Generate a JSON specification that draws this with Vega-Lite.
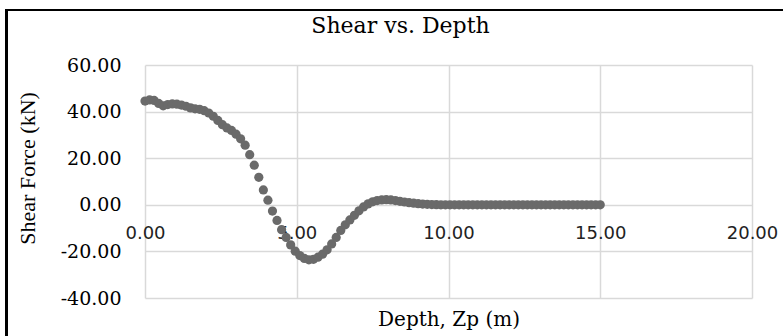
{
  "$schema": "https://vega.github.io/schema/vega-lite/v6.json",
  "autosize": {"type": "none"},
  "width": 607,
  "height": 233,
  "padding": {"left": 145, "top": 65, "right": 31, "bottom": 38},
  "background": "white",
  "title": {
    "text": "Shear vs. Depth",
    "font": "DejaVu Serif",
    "fontSize": 22,
    "fontWeight": "normal",
    "color": "#000000",
    "anchor": "middle",
    "dx": -48,
    "offset": -29
  },
  "config": {
    "view": {"stroke": null}
  },
  "data": {
    "values": [
      {"d": 0.00, "v": 44.5}, {"d": 0.15, "v": 45.0}, {"d": 0.30, "v": 44.8}, {"d": 0.45, "v": 43.5},
      {"d": 0.60, "v": 42.5}, {"d": 0.75, "v": 43.0}, {"d": 0.90, "v": 43.3}, {"d": 1.05, "v": 43.2},
      {"d": 1.20, "v": 42.8}, {"d": 1.35, "v": 42.3}, {"d": 1.50, "v": 41.6}, {"d": 1.65, "v": 41.2},
      {"d": 1.80, "v": 41.0}, {"d": 1.95, "v": 40.4}, {"d": 2.10, "v": 39.4}, {"d": 2.25, "v": 38.0},
      {"d": 2.40, "v": 36.2}, {"d": 2.55, "v": 34.4}, {"d": 2.70, "v": 33.0}, {"d": 2.85, "v": 31.9},
      {"d": 3.00, "v": 30.3}, {"d": 3.15, "v": 28.3}, {"d": 3.30, "v": 25.6}, {"d": 3.45, "v": 21.5},
      {"d": 3.60, "v": 17.0}, {"d": 3.75, "v": 11.8}, {"d": 3.90, "v": 6.4}, {"d": 4.05, "v": 2.0},
      {"d": 4.20, "v": -2.7}, {"d": 4.35, "v": -6.7}, {"d": 4.50, "v": -10.7}, {"d": 4.65, "v": -14.0},
      {"d": 4.80, "v": -17.2}, {"d": 4.95, "v": -19.9}, {"d": 5.10, "v": -21.8}, {"d": 5.25, "v": -23.0},
      {"d": 5.40, "v": -23.6}, {"d": 5.55, "v": -23.4}, {"d": 5.70, "v": -22.5}, {"d": 5.85, "v": -21.2},
      {"d": 6.00, "v": -19.3}, {"d": 6.15, "v": -16.8}, {"d": 6.30, "v": -14.0}, {"d": 6.45, "v": -11.0},
      {"d": 6.60, "v": -8.6}, {"d": 6.75, "v": -6.5}, {"d": 6.90, "v": -4.5}, {"d": 7.05, "v": -2.6},
      {"d": 7.20, "v": -0.9}, {"d": 7.35, "v": 0.4}, {"d": 7.50, "v": 1.3}, {"d": 7.65, "v": 1.8},
      {"d": 7.80, "v": 2.1}, {"d": 7.95, "v": 2.2}, {"d": 8.10, "v": 2.1}, {"d": 8.25, "v": 1.8},
      {"d": 8.40, "v": 1.5}, {"d": 8.55, "v": 1.2}, {"d": 8.70, "v": 0.9}, {"d": 8.85, "v": 0.7},
      {"d": 9.00, "v": 0.5}, {"d": 9.15, "v": 0.3}, {"d": 9.30, "v": 0.2}, {"d": 9.45, "v": 0.1},
      {"d": 9.60, "v": 0.05}, {"d": 9.75, "v": 0}, {"d": 9.90, "v": 0}, {"d": 10.05, "v": 0},
      {"d": 10.20, "v": 0}, {"d": 10.35, "v": 0}, {"d": 10.50, "v": 0}, {"d": 10.65, "v": 0},
      {"d": 10.80, "v": 0}, {"d": 10.95, "v": 0}, {"d": 11.10, "v": 0}, {"d": 11.25, "v": 0},
      {"d": 11.40, "v": 0}, {"d": 11.55, "v": 0}, {"d": 11.70, "v": 0}, {"d": 11.85, "v": 0},
      {"d": 12.00, "v": 0}, {"d": 12.15, "v": 0}, {"d": 12.30, "v": 0}, {"d": 12.45, "v": 0},
      {"d": 12.60, "v": 0}, {"d": 12.75, "v": 0}, {"d": 12.90, "v": 0}, {"d": 13.05, "v": 0},
      {"d": 13.20, "v": 0}, {"d": 13.35, "v": 0}, {"d": 13.50, "v": 0}, {"d": 13.65, "v": 0},
      {"d": 13.80, "v": 0}, {"d": 13.95, "v": 0}, {"d": 14.10, "v": 0}, {"d": 14.25, "v": 0},
      {"d": 14.40, "v": 0}, {"d": 14.55, "v": 0}, {"d": 14.70, "v": 0}, {"d": 14.85, "v": 0},
      {"d": 15.00, "v": 0}
    ]
  },
  "layer": [
    {
      "mark": {"type": "circle", "size": 85, "color": "#6a6a6a", "opacity": 1},
      "encoding": {
        "x": {
          "field": "d",
          "type": "quantitative",
          "scale": {"domain": [0, 20], "nice": false, "zero": false},
          "axis": {
            "values": [0, 5, 10, 15, 20],
            "format": ".2f",
            "grid": true,
            "gridColor": "#d9d9d9",
            "gridWidth": 1.5,
            "domain": false,
            "ticks": false,
            "title": "Depth, Zp (m)",
            "offset": -93.2,
            "labelFont": "DejaVu Sans",
            "labelFontSize": 18,
            "labelColor": "#222222",
            "labelPadding": 20,
            "labelFlush": false,
            "labelOverlap": false,
            "titleFont": "DejaVu Serif",
            "titleFontSize": 20,
            "titleFontWeight": "normal",
            "titleColor": "#000000",
            "titleY": 115,
            "titleBaseline": "middle"
          }
        },
        "y": {
          "field": "v",
          "type": "quantitative",
          "scale": {"domain": [-40, 60], "nice": false, "zero": false},
          "axis": {
            "values": [-40, -20, 0, 20, 40, 60],
            "format": ".2f",
            "labelExpr": "replace(datum.label, '\u2212', '-')",
            "grid": true,
            "gridColor": "#d9d9d9",
            "gridWidth": 1.5,
            "domain": false,
            "ticks": false,
            "title": "Shear Force (kN)",
            "labelFont": "DejaVu Serif",
            "labelFontSize": 19,
            "labelColor": "#000000",
            "labelPadding": 24,
            "labelOverlap": false,
            "labelFlush": false,
            "titleFont": "Liberation Serif",
            "titleFontSize": 22,
            "titleFontWeight": "normal",
            "titleColor": "#000000",
            "titleX": -118,
            "titleY": 103,
            "titleBaseline": "middle"
          }
        }
      }
    },
    {
      "mark": {"type": "rect", "fill": null, "fillOpacity": 0, "stroke": "#000000", "strokeWidth": 2, "clip": false},
      "encoding": {
        "x": {"datum": -4.55, "type": "quantitative"},
        "x2": {"datum": 21.3},
        "y": {"datum": 83.6, "type": "quantitative"},
        "y2": {"datum": -58}
      }
    }
  ]
}
